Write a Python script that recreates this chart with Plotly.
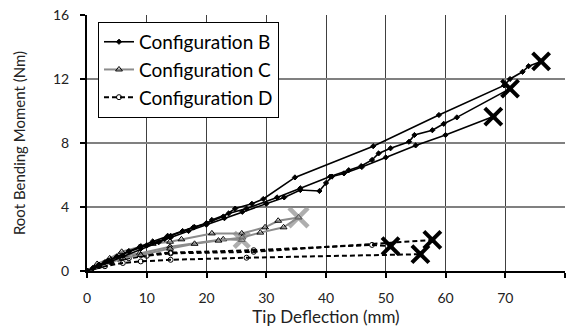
import plotly.graph_objects as go

# ---------------- data ----------------
# Configuration B (three specimens)
b1_x = [0, 1, 2, 3.5, 5, 7, 9, 11, 13.5, 16, 18, 20, 22.8, 24.8, 27.6, 29.5, 34.8, 47.9, 58.9, 69.8, 70.8, 72.9, 73.9, 76]
b1_y = [0, 0.2, 0.4, 0.65, 0.9, 1.25, 1.55, 1.85, 2.2, 2.5, 2.75, 3.0, 3.4, 3.9, 4.2, 4.5, 5.85, 7.8, 9.75, 11.6, 12.0, 12.45, 12.8, 13.1]
b2_x = [0, 1, 2, 3, 5, 7, 10, 13, 14, 17.8, 19.9, 20.9, 23.7, 26.7, 31.8, 35.7, 40.7, 43.8, 45.9, 47.7, 48.8, 50.8, 53.9, 54.8, 57.8, 59.7, 61.9, 70.8]
b2_y = [0, 0.15, 0.35, 0.55, 0.9, 1.2, 1.6, 2.0, 2.2, 2.73, 2.94, 3.19, 3.6, 3.9, 4.6, 5.17, 5.9, 6.3, 6.56, 6.94, 7.35, 7.67, 8.08, 8.5, 8.8, 9.2, 9.6, 11.4]
b3_x = [0, 2, 4, 6, 9, 12, 14, 17, 20, 23, 26, 30, 33, 35.7, 38.9, 40, 41, 43, 46, 50, 55, 60, 68]
b3_y = [0, 0.3, 0.6, 0.95, 1.4, 1.8, 2.1, 2.5, 2.9, 3.3, 3.7, 4.2, 4.6, 5.06, 5.0, 5.5, 5.9, 6.1, 6.5, 7.1, 7.85, 8.5, 9.65]

# Configuration C
c1_x = [0, 1.7, 3.8, 5.8, 8.8, 11, 13.9, 15.8, 20.9, 25.9, 29.8, 32, 35.4]
c1_y = [0, 0.44, 0.79, 1.2, 1.5, 1.7, 1.83, 1.98, 2.35, 2.35, 2.73, 3.14, 3.35]
c2_x = [0, 2, 4, 6, 8.8, 13.9, 22.8, 25.9]
c2_y = [0, 0.35, 0.7, 0.95, 1.1, 1.52, 1.98, 1.94]
c3_x = [0, 2, 4, 6, 9, 13.9, 18, 22, 26, 29, 32.9, 35.4]
c3_y = [0, 0.3, 0.55, 0.8, 1.0, 1.4, 1.7, 1.9, 2.1, 2.4, 2.73, 3.35]

# Configuration D
d1_x = [0, 2, 4, 6, 9, 14, 27.9, 47.7, 50.8]
d1_y = [0, 0.35, 0.6, 0.85, 1.0, 1.15, 1.3, 1.63, 1.55]
d2_x = [0, 2, 4, 7, 10, 14, 27.9, 57.8]
d2_y = [0, 0.3, 0.55, 0.8, 0.95, 1.1, 1.2, 1.94]
d3_x = [0, 3, 6, 9, 14, 26.7, 55.8]
d3_y = [0, 0.3, 0.5, 0.6, 0.7, 0.83, 1.05]

# failure points
fail_b_x = [76, 70.8, 68]
fail_b_y = [13.1, 11.4, 9.65]
fail_c_x = [35.4, 25.9]
fail_c_y = [3.35, 1.94]
fail_d_x = [50.8, 57.8, 55.8]
fail_d_y = [1.55, 1.94, 1.05]

x_ticks = [0, 10, 20, 30, 40, 50, 60, 70, 80]
y_ticks = [0, 4, 8, 12, 16]

FONT = "Lato"
GRAY = "#8c8c8c"

fig = go.Figure()

def add_series(xs, ys, name, color, width, dash, symbol, msize, show, group, rank):
    fig.add_trace(go.Scatter(
        x=xs, y=ys, mode="lines+markers", name=name,
        legendgroup=group, showlegend=show, legendrank=rank,
        line=dict(color=color, width=width, dash=dash),
        marker=dict(symbol=symbol, size=msize, color="black",
                    line=dict(color="black", width=1)),
    ))

# D (bottom layer)
for i, (xs, ys) in enumerate([(d1_x, d1_y), (d2_x, d2_y), (d3_x, d3_y)]):
    add_series(xs, ys, "Configuration D", "black", 2, "5px,3px", "circle-open", 5, i == 0, "D", 3)
# C
for i, (xs, ys) in enumerate([(c1_x, c1_y), (c2_x, c2_y), (c3_x, c3_y)]):
    add_series(xs, ys, "Configuration C", GRAY, 2, "solid", "triangle-up-open", 6, i == 0, "C", 2)
# B
for i, (xs, ys) in enumerate([(b1_x, b1_y), (b2_x, b2_y), (b3_x, b3_y)]):
    add_series(xs, ys, "Configuration B", "black", 1.6, "solid", "diamond", 4, i == 0, "B", 1)

# failure markers
fig.add_trace(go.Scatter(x=fail_c_x, y=fail_c_y, mode="markers", showlegend=False,
                         marker=dict(symbol="x-thin", size=[19, 15], line=dict(color=GRAY, width=4.5))))
fig.add_trace(go.Scatter(x=fail_d_x, y=fail_d_y, mode="markers", showlegend=False,
                         marker=dict(symbol="x-thin", size=17, line=dict(color="black", width=4))))
fig.add_trace(go.Scatter(x=fail_b_x, y=fail_b_y, mode="markers", showlegend=False,
                         marker=dict(symbol="x-thin", size=17, line=dict(color="black", width=4))))

fig.update_layout(
    width=571, height=333,
    margin=dict(l=87, r=6, t=15, b=62),
    paper_bgcolor="white", plot_bgcolor="white",
    font=dict(family=FONT, color="#222"),
    legend=dict(
        x=0.023, y=0.973, xanchor="left", yanchor="top",
        bgcolor="white", bordercolor="black", borderwidth=1,
        font=dict(family=FONT, size=19, color="black"),
        traceorder="grouped", tracegroupgap=0,
    ),
    xaxis=dict(
        range=[0, 80], tickvals=x_ticks, ticktext=[str(v) for v in x_ticks],
        showgrid=True, gridcolor="#404040", gridwidth=1,
        showline=True, linecolor="black", linewidth=2,
        ticks="outside", ticklen=5, tickcolor="black", tickwidth=1.5,
        ticklabelstandoff=8,
        tickfont=dict(family=FONT, size=14, color="#222"),
        title=dict(text="Tip Deflection (mm)", font=dict(family=FONT, size=17, color="#222"), standoff=6),
        zeroline=False,
    ),
    yaxis=dict(
        range=[0, 16], tickvals=y_ticks, ticktext=[str(v) for v in y_ticks],
        showgrid=True, gridcolor="#808080", gridwidth=1.5,
        showline=True, linecolor="black", linewidth=2,
        ticks="outside", ticklen=5, tickcolor="black", tickwidth=1.5,
        ticklabelstandoff=8,
        tickfont=dict(family=FONT, size=14, color="#222"),
        title=dict(text="Root Bending Moment (Nm)", font=dict(family=FONT, size=15, color="#222"), standoff=24),
        zeroline=False,
    ),
)

fig.write_html("out.html")
